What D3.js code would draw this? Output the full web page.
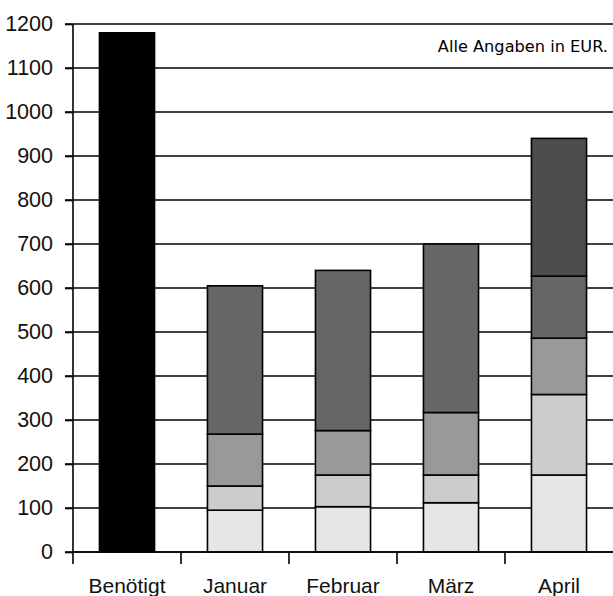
<!DOCTYPE html>
<html>
<head>
<meta charset="utf-8">
<script src="https://cdn.jsdelivr.net/npm/d3@7"></script>
<style>
  body { margin: 0; background: #fff; }
  svg { display: block; }
</style>
</head>
<body>
<svg id="chart"></svg>
<script>
const categories = ['Benötigt', 'Januar', 'Februar', 'März', 'April'];
const benoetigt = [1180, 0, 0, 0, 0];
const teil1 = [0, 95, 103, 112, 175];
const teil2 = [0, 55, 72, 63, 183];
const teil3 = [0, 118, 101, 142, 128];
const teil4 = [0, 337, 364, 383, 141];
const teil5 = [0, 0, 0, 0, 313];
const yTicks = [0, 100, 200, 300, 400, 500, 600, 700, 800, 900, 1000, 1100, 1200];

const width = 613;
const height = 596;
const colors = ['#000000', '#e6e6e6', '#cccccc', '#999999', '#666666', '#4d4d4d'];
const keys = ['benoetigt', 'teil1', 'teil2', 'teil3', 'teil4', 'teil5'];
const series = [benoetigt, teil1, teil2, teil3, teil4, teil5];

const rows = categories.map((c, i) => {
    const r = { cat: c };
    keys.forEach((k, j) => r[k] = series[j][i]);
    return r;
});

const svg = d3.select('#chart')
    .attr('width', width)
    .attr('height', height);

const x = d3.scaleBand()
    .domain(categories)
    .range([73, 613])
    .padding(0);

const y = d3.scaleLinear()
    .domain([0, 1200])
    .range([552, 24]);

const barW = x.bandwidth() * 0.51;

// grid
svg.append('g')
    .selectAll('line')
    .data(yTicks)
    .enter().append('line')
    .attr('x1', 65)
    .attr('x2', width)
    .attr('y1', d => y(d))
    .attr('y2', d => y(d))
    .style('stroke', '#000')
    .style('stroke-width', 1.6);

// note
svg.append('text')
    .attr('x', 608)
    .attr('y', 52)
    .attr('text-anchor', 'end')
    .style('font-family', 'DejaVu Sans, sans-serif')
    .style('font-size', '16.2px')
    .style('fill', '#000')
    .text('Alle Angaben in EUR.');

// bars
const stacked = d3.stack().keys(keys)(rows);

const layer = svg.selectAll('g.layer')
    .data(stacked)
    .enter().append('g')
    .attr('class', 'layer')
    .style('fill', (d, i) => colors[i]);

layer.selectAll('rect')
    .data(d => d.filter(s => s[1] - s[0] > 0))
    .enter().append('rect')
    .attr('x', d => x(d.data.cat) + (x.bandwidth() - barW) / 2)
    .attr('width', barW)
    .attr('y', d => y(d[1]))
    .attr('height', d => y(d[0]) - y(d[1]))
    .style('stroke', '#000')
    .style('stroke-width', 1.6);

// y axis
const yAxis = svg.append('g')
    .attr('transform', 'translate(73,0)')
    .call(d3.axisLeft(y).tickValues(yTicks).tickSize(8).tickPadding(12).tickFormat(d3.format('d')));
yAxis.select('.domain').attr('d', 'M0,24V564').style('stroke', '#000').style('stroke-width', 1.6);
yAxis.selectAll('.tick line').style('stroke', '#000').style('stroke-width', 1.6);
yAxis.selectAll('text')
    .style('font-family', 'Liberation Sans, Arial, sans-serif')
    .style('font-size', '21.5px')
    .style('fill', '#111');

// x axis
const xAxis = svg.append('g')
    .attr('transform', 'translate(0,552)')
    .call(d3.axisBottom(x).tickSize(0).tickPadding(26));
xAxis.select('.domain').attr('d', 'M73,0H613').style('stroke', '#000').style('stroke-width', 1.6);
xAxis.selectAll('text')
    .style('font-family', 'Liberation Sans, Arial, sans-serif')
    .style('font-size', '21px')
    .style('fill', '#111');

xAxis.selectAll('line.sep')
    .data(categories.slice(1))
    .enter().append('line')
    .attr('class', 'sep')
    .attr('x1', d => x(d))
    .attr('x2', d => x(d))
    .attr('y1', 0)
    .attr('y2', 12)
    .style('stroke', '#000')
    .style('stroke-width', 1.6);
</script>
</body>
</html>
